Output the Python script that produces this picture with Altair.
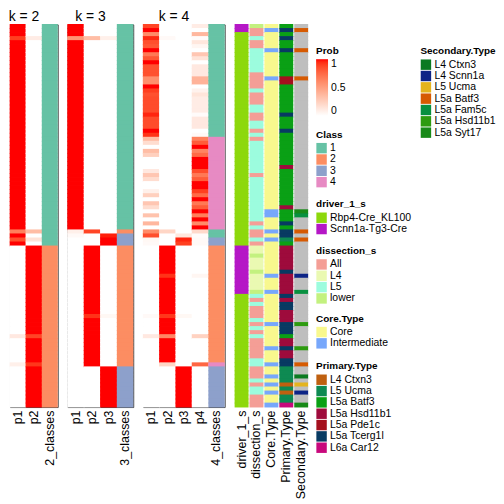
import altair as alt
import pandas as pd

N_ROWS = 95
ROWS = list(range(N_ROWS))
FONT = "Liberation Sans"

# ---------------- membership probabilities, (value, number of consecutive rows) ----------------
K2_P1 = [(1.0, 3), (0.9, 1), (1.0, 47), (0.65, 1), (1.0, 1), (0.85, 1), (1.0, 1),
         (0.0, 22), (0.12, 1), (0.0, 6), (0.08, 1), (0.0, 10)]
K2_P2 = [(0.0, 3), (0.1, 1), (0.0, 47), (0.35, 1), (0.0, 1), (0.15, 1), (0.0, 1),
         (1.0, 22), (0.88, 1), (1.0, 6), (0.92, 1), (1.0, 10)]
K2_CLASS = [("1", 55), ("2", 40)]

K3_P1 = [(1.0, 3), (0.55, 1), (1.0, 47), (0.08, 1), (0.03, 1), (0.0, 42)]
K3_P2 = [(0.0, 3), (0.35, 1), (0.0, 47), (0.88, 1), (0.0, 3), (1.0, 17), (0.93, 1),
         (1.0, 12), (0.0, 10)]
K3_P3 = [(0.0, 3), (0.08, 1), (0.0, 48), (0.97, 1), (1.0, 2), (0.0, 17), (0.04, 1),
         (0.0, 12), (1.0, 10)]
K3_CLASS = [("1", 51), ("2", 1), ("3", 3), ("2", 30), ("3", 10)]

K4_P1 = [(0.88, 1), (1.0, 1), (0.6, 1), (0.95, 1), (0.85, 1), (0.82, 1), (1.0, 1), (0.68, 1),
         (0.82, 1), (1.0, 1), (0.84, 3), (0.58, 2), (1.0, 1), (0.9, 1), (0.84, 1), (0.86, 4),
         (0.96, 1), (0.86, 3), (1.0, 1), (0.93, 1),
         (0.35, 1), (0.18, 1), (0.0, 1), (0.35, 1), (0.25, 1), (0.0, 3), (0.12, 1), (0.3, 1),
         (0.18, 1), (0.0, 2), (0.08, 1), (0.25, 1), (0.0, 1), (0.3, 1), (0.18, 1), (0.0, 1),
         (0.32, 1), (0.0, 1), (0.38, 1), (0.0, 1),
         (0.6, 1), (0.85, 1), (0.04, 1), (0.03, 1),
         (0.0, 17), (0.03, 1), (0.0, 4), (0.12, 1), (0.0, 17)]
K4_P2 = [(0.0, 3), (0.03, 1), (0.0, 47), (0.22, 1), (0.0, 3),
         (1.0, 7), (0.93, 1), (1.0, 9), (0.92, 1), (1.0, 4), (0.62, 1), (1.0, 6), (0.22, 1),
         (0.0, 10)]
K4_P3 = [(0.0, 52), (0.13, 1), (0.96, 1), (0.9, 1), (0.0, 17), (0.04, 1), (0.0, 12), (1.0, 10)]
K4_P4 = [(0.1, 1), (0.0, 1), (0.38, 1), (0.02, 1), (0.13, 1), (0.05, 1), (0.0, 1), (0.3, 1),
         (0.15, 1), (0.0, 1), (0.12, 3), (0.4, 2), (0.0, 1), (0.07, 1), (0.14, 1), (0.1, 4),
         (0.02, 1), (0.12, 3), (0.0, 1), (0.03, 1),
         (0.65, 1), (0.8, 1), (1.0, 1), (0.63, 1), (0.74, 1), (1.0, 3), (0.86, 1), (0.68, 1),
         (0.8, 1), (1.0, 2), (0.9, 1), (0.74, 1), (1.0, 1), (0.68, 1), (0.8, 1), (1.0, 1),
         (0.66, 1), (1.0, 1), (0.6, 1), (1.0, 1),
         (0.2, 1), (0.02, 1), (0.03, 1), (0.03, 1),
         (0.0, 7), (0.05, 1), (0.0, 14), (0.24, 1), (0.0, 6), (0.76, 1), (0.0, 10)]
K4_CLASS = [("1", 28), ("4", 23), ("1", 2), ("3", 2), ("2", 29), ("4", 1), ("3", 10)]

# ---------------- row annotations ----------------
DRIVER_RUNS = [("Scnn1a-Tg3-Cre", 2), ("Rbp4-Cre_KL100", 53), ("Scnn1a-Tg3-Cre", 12),
               ("Rbp4-Cre_KL100", 28)]
DISSECTION_CODES = ("wAA5AA555555AAAA5AAA55AA55A5A55555555A55555555555A5AA5A"
                    "44w444w4444w" "5A5AAA5A5A5AAAAA55AAA5A55AAA")
DISSECTION_NAMES = {"w": "lower", "A": "All", "4": "L4", "5": "L5"}
CORE_CODES = ("CICCCCICCC" "CCCICCCCCC" "CCCCCCCCCC" "CCCCCCCCCC" "CCCCCCIICC"
              "CICICCCCCC" "CCICCCICCC" "CCCCICCCCC" "ICCCICCICI" "CICCI")
CORE_NAMES = {"C": "Core", "I": "Intermediate"}
PRIMARY_CODES = ("BTBTBBTBBB" "BBBPPBBBBB" "BBTBBBTBBB" "BBBBBHBBBB" "BBBBBHBBBT"
                 "BTTUBHHHHH" "HTHHHHHTHT" "THHHTTTBHH" "THHTTUUUUC" "UCUUM")
PRIMARY_NAMES = {"C": "L4 Ctxn3", "U": "L5 Ucma", "B": "L5a Batf3", "H": "L5a Hsd11b1",
                 "P": "L5a Pde1c", "T": "L5a Tcerg1l", "M": "L6a Car12"}
SECONDARY_CODES = ("NbNNNNbNNN" "NNNbNNNNNN" "NNNNNNNNNN" "NNNNNNNNNN" "NNNNNNyfNN"
                   "NbNbNNNNNN" "NNsNNNfNNN" "NNNNhNNNNN" "hNNNbNNcNu" "NsNNy")
SECONDARY_NAMES = {"N": "NA", "c": "L4 Ctxn3", "s": "L4 Scnn1a", "u": "L5 Ucma",
                   "b": "L5a Batf3", "f": "L5a Fam5c", "h": "L5a Hsd11b1", "y": "L5a Syt17"}

# ---------------- colours ----------------
CLASS_DOMAIN = ["1", "2", "3", "4"]
CLASS_COLORS = ["#66C2A5", "#FC8D62", "#8DA0CB", "#E78AC3"]
DRIVER_DOMAIN = ["Rbp4-Cre_KL100", "Scnn1a-Tg3-Cre"]
DRIVER_COLORS = ["#8DD80C", "#B517C6"]
DISSECTION_DOMAIN = ["All", "L4", "L5", "lower"]
DISSECTION_COLORS = ["#F49E96", "#EAF9B2", "#9CFCDE", "#C3F17F"]
CORE_DOMAIN = ["Core", "Intermediate"]
CORE_COLORS = ["#F8F88E", "#77A7FB"]
PRIMARY_DOMAIN = ["L4 Ctxn3", "L5 Ucma", "L5a Batf3", "L5a Hsd11b1", "L5a Pde1c",
                  "L5a Tcerg1l", "L6a Car12"]
PRIMARY_COLORS = ["#BF6010", "#0E8A52", "#0AA015", "#9E0B3C", "#A5101E", "#083A62", "#C8087C"]
SECONDARY_DOMAIN = ["L4 Ctxn3", "L4 Scnn1a", "L5 Ucma", "L5a Batf3", "L5a Fam5c",
                    "L5a Hsd11b1", "L5a Syt17", "NA"]
SECONDARY_COLORS = ["#0B7A21", "#0D2486", "#E4B41E", "#D65A02", "#089040", "#2D9B10",
                    "#188A18", "#BEBEBE"]

HEIGHT = 385
CELL = dict(height={"band": 1.2})


def expand(runs):
    out = []
    for v, n in runs:
        out.extend([v] * n)
    return out


def y_enc():
    return alt.Y("row:O", scale=alt.Scale(domain=ROWS, paddingInner=0, paddingOuter=0), axis=None)


def x_axis():
    return alt.Axis(title=None, labelAngle=270, ticks=False, domain=False, labelFont=FONT,
                    labelFontSize=12.5, labelColor="black", labelPadding=3)


def heat_panel(k, prob_runs, class_runs, width):
    cols = [f"p{i + 1}" for i in range(k)] + [f"{k}_classes"]
    prob_rows = []
    for name, runs in zip(cols[:-1], prob_runs):
        for r, v in enumerate(expand(runs)):
            prob_rows.append({"row": r, "col": name, "Prob": v})
    class_rows = [{"row": r, "col": cols[-1], "Class": c} for r, c in enumerate(expand(class_runs))]
    xenc = alt.X("col:N", scale=alt.Scale(domain=cols, paddingInner=0, paddingOuter=0), axis=x_axis())
    prob = alt.Chart(pd.DataFrame(prob_rows)).mark_rect(width={"band": 1.04}, **CELL).encode(
        x=xenc, y=y_enc(),
        color=alt.Color("Prob:Q", scale=alt.Scale(domain=[0, 1], range=["#FFFFFF", "#FF0000"],
                                                   interpolate="lab"), legend=None))
    cls = alt.Chart(pd.DataFrame(class_rows)).mark_rect(**CELL).encode(
        x=xenc, y=y_enc(),
        color=alt.Color("Class:N", scale=alt.Scale(domain=CLASS_DOMAIN, range=CLASS_COLORS), legend=None))
    return alt.layer(prob, cls).resolve_scale(color="independent").properties(
        width=width, height=HEIGHT,
        title=alt.TitleParams(f"k = {k}", font=FONT, fontSize=14, fontWeight="normal", color="black",
                              anchor="middle", dx=-10, offset=0),
        view=alt.ViewBackground(stroke="#3C3C3C", strokeWidth=1, strokeOpacity=1))


def sym_legend(title, lx, ly, values=None):
    kw = dict(title=title, orient="none", legendX=lx, legendY=ly, direction="vertical",
              symbolType="square", symbolSize=110, symbolStrokeWidth=0, symbolOpacity=1,
              rowPadding=0.4, labelOffset=3, labelFont=FONT, labelFontSize=10.5, labelColor="black",
              titleFont=FONT, titleFontSize=10, titleFontWeight="bold", titleColor="black",
              titlePadding=3, padding=0, titleAnchor="start")
    if values is not None:
        kw["values"] = values
    return alt.Legend(**kw)


k2 = heat_panel(2, [K2_P1, K2_P2], K2_CLASS, 48)
k3 = heat_panel(3, [K3_P1, K3_P2, K3_P3], K3_CLASS, 66)
k4 = heat_panel(4, [K4_P1, K4_P2, K4_P3, K4_P4], K4_CLASS, 82)

# ---------------- annotation panel ----------------
ANNO_COLS = ["driver_1_s", "dissection_s", "Core.Type", "Primary.Type", "Secondary.Type"]
anno_values = {
    "driver_1_s": expand(DRIVER_RUNS),
    "dissection_s": [DISSECTION_NAMES[c] for c in DISSECTION_CODES],
    "Core.Type": [CORE_NAMES[c] for c in CORE_CODES],
    "Primary.Type": [PRIMARY_NAMES[c] for c in PRIMARY_CODES],
    "Secondary.Type": [SECONDARY_NAMES[c] for c in SECONDARY_CODES],
}
anno_x = alt.X("col:N", scale=alt.Scale(domain=ANNO_COLS, paddingInner=1 / 15, paddingOuter=0),
               axis=x_axis())

LX1, LX2 = 82, 187
anno_specs = [
    ("driver_1_s", DRIVER_DOMAIN, DRIVER_COLORS, sym_legend("driver_1_s", LX1, 176)),
    ("dissection_s", DISSECTION_DOMAIN, DISSECTION_COLORS, sym_legend("dissection_s", LX1, 223)),
    ("Core.Type", CORE_DOMAIN, CORE_COLORS, sym_legend("Core.Type", LX1, 291)),
    ("Primary.Type", PRIMARY_DOMAIN, PRIMARY_COLORS, sym_legend("Primary.Type", LX1, 339)),
    ("Secondary.Type", SECONDARY_DOMAIN, SECONDARY_COLORS,
     sym_legend("Secondary.Type", LX2, 22, values=SECONDARY_DOMAIN[:-1])),
]
anno_layers = []
for i, (name, dom, rng, leg) in enumerate(anno_specs):
    field = f"v{i}"
    df = pd.DataFrame({"row": ROWS, "col": name, field: anno_values[name]})
    anno_layers.append(alt.Chart(df).mark_rect(**CELL).encode(
        x=anno_x, y=y_enc(),
        color=alt.Color(f"{field}:N", scale=alt.Scale(domain=dom, range=rng), legend=leg)))

# legends of the probability and class scales (shown once, next to the annotations)
prob_legend = alt.Chart(alt.Data(values=[])).mark_rect().encode(
    color=alt.Color("Prob:Q",
                    scale=alt.Scale(domain=[0, 1], range=["#FFFFFF", "#FF0000"], interpolate="lab"),
                    legend=alt.Legend(title="Prob", orient="none", legendX=LX1, legendY=22,
                                      direction="vertical", gradientLength=57, gradientThickness=12,
                                      gradientStrokeWidth=0, values=[0, 0.5, 1], format="~g",
                                      labelOffset=3, labelFont=FONT, labelFontSize=10.5,
                                      labelColor="black", titleFont=FONT, titleFontSize=10,
                                      titleFontWeight="bold", titleColor="black", titlePadding=3,
                                      padding=0)))
class_legend = alt.Chart(alt.Data(values=[])).mark_rect().encode(
    color=alt.Color("Class:N", scale=alt.Scale(domain=CLASS_DOMAIN, range=CLASS_COLORS),
                    legend=sym_legend("Class", LX1, 106)))

anno = alt.layer(*anno_layers, prob_legend, class_legend).resolve_scale(color="independent").properties(
    width=74, height=HEIGHT, title=alt.TitleParams(" ", font=FONT, fontSize=14, offset=0),
    view=alt.ViewBackground(strokeOpacity=0))

chart = alt.hconcat(k2, k3, k4, anno, spacing=10, bounds="flush").resolve_scale(
    color="independent").properties(padding=0).configure_view(strokeOpacity=0)

chart.save("out.html", embed_options={"renderer": "svg", "actions": False})
